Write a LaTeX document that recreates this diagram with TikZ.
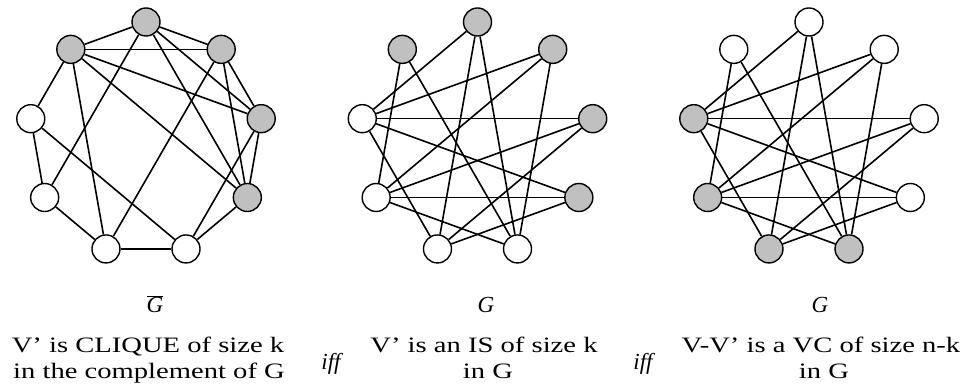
\documentclass[tikz,border=0pt]{standalone}
\usepackage{fontspec}
\setmainfont{Liberation Serif}[FakeStretch=1.3]
\newfontfamily\narrowserif{Liberation Serif}
\definecolor{selgray}{RGB}{192,192,192}
\begin{document}
\begin{tikzpicture}[x=1pt,y=1pt,
  vtx/.style={circle,draw=black,line width=1.4pt,fill=white,minimum size=28pt,inner sep=0pt},
  sel/.style={vtx,fill=selgray},
  lnk/.style={draw=black,line width=1.6pt},
  captext/.style={anchor=base,inner sep=0pt,font=\fontsize{22}{26}\selectfont},
  lbl/.style={anchor=base,inner sep=0pt,font=\fontsize{23}{26}\narrowserif\itshape}]
\useasboundingbox (0,0) rectangle (980,388);

% complement graph: clique {0,1,6,7,8}
\begin{scope}[shift={(146,249)}]
  \foreach \i/\s in {0/sel,1/sel,2/vtx,3/vtx,4/vtx,5/vtx,6/sel,7/sel,8/sel}
    \node[\s] (a\i) at ({90+40*\i}:117) {};
  \foreach \u/\v in {0/1,0/8,0/7,0/6,1/8,1/7,1/6,8/7,8/6,7/6,
                     0/3,1/4,1/2,8/4,7/5,2/3,2/5,3/4,4/5,6/5}
    \draw[lnk] (a\u) -- (a\v);
\end{scope}

% graph G with independent set {0,1,6,7,8}
\begin{scope}[shift={(477.5,249)}]
  \foreach \i/\s in {0/sel,1/sel,2/vtx,3/vtx,4/vtx,5/vtx,6/sel,7/sel,8/sel}
    \node[\s] (b\i) at ({90+40*\i}:117) {};
  \foreach \u/\v in {0/2,0/4,0/5,1/3,1/5,8/2,8/3,8/5,7/2,7/3,7/4,
                     6/2,6/3,6/4,2/4,3/5}
    \draw[lnk] (b\u) -- (b\v);
\end{scope}

% graph G with vertex cover {2,3,4,5}
\begin{scope}[shift={(809,249)}]
  \foreach \i/\s in {0/vtx,1/vtx,2/sel,3/sel,4/sel,5/sel,6/vtx,7/vtx,8/vtx}
    \node[\s] (c\i) at ({90+40*\i}:117) {};
  \foreach \u/\v in {0/2,0/4,0/5,1/3,1/5,8/2,8/3,8/5,7/2,7/3,7/4,
                     6/2,6/3,6/4,2/4,3/5}
    \draw[lnk] (c\u) -- (c\v);
\end{scope}

% graph names
\node[lbl] (gbar) at (155,75) {$\overline{\mbox{\narrowserif\itshape G}}$};
\node[lbl] (g2) at (486,75) {G};
\node[lbl] (g3) at (820,75) {G};

% captions
\node[captext] (t1a) at (148,35) {V’ is CLIQUE of size k};
\node[captext] (t1b) at (149,9) {in the complement of G};
\node[captext] (t2a) at (484,35) {V’ is an IS of size k};
\node[captext] (t2b) at (488,9) {in G};
\node[captext] (t3a) at (821,35) {V-V’ is a VC of size n-k};
\node[captext] (t3b) at (824,9) {in G};

% connectives
\node[lbl] (iff1) at (331,18) {iff};
\node[lbl] (iff2) at (643,18) {iff};
\end{tikzpicture}
\end{document}
